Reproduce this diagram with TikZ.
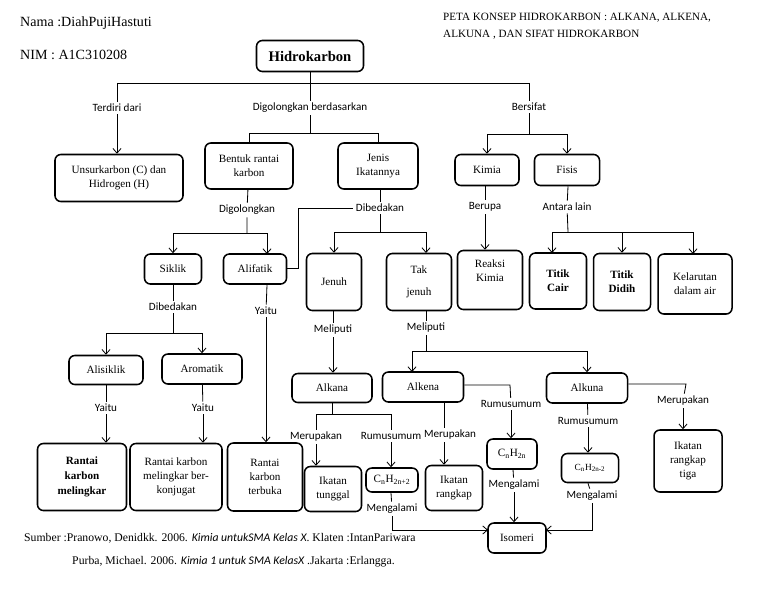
\documentclass[tikz,border=0pt]{standalone}
\usepackage{fontspec}
\setmainfont{Liberation Serif}
\setsansfont{Carlito}
\usetikzlibrary{arrows.meta}

\begin{document}
\begin{tikzpicture}[x=0.03cm,y=-0.03cm,
  box/.style={draw, line width=1.3pt, rounded corners=5pt, align=center, inner sep=1pt, font=\fontsize{9.5}{12}\selectfont},
  sz/.style 2 args={minimum width=#1*0.03cm, minimum height=#2*0.03cm},
  lbl/.style={font=\sffamily\fontsize{9.5}{11}\selectfont, inner sep=2pt},
  link/.style={line width=0.7pt},
  arr/.style={link, -{Straight Barb[length=4pt,width=7pt]}}]
  \useasboundingbox (0,0) rectangle (768,594);

  % Header
  \node[anchor=west, inner sep=0pt, font=\fontsize{12}{14}\selectfont] (nama) at (20,23) {Nama :DiahPujiHastuti};
  \node[anchor=west, inner sep=0pt, font=\fontsize{12}{14}\selectfont] (nim) at (20,55) {NIM : A1C310208};
  \node[anchor=north west, align=left, inner sep=0pt, font=\fontsize{9.5}{14.5}\selectfont] (judul) at (443,13) {PETA KONSEP HIDROKARBON : ALKANA, ALKENA,\\ALKUNA , DAN SIFAT HIDROKARBON};

  % Boxes
  \node[box, sz={107}{31}, font=\bfseries\fontsize{12.5}{14}\selectfont] (hidro) at (310,56) {Hidrokarbon};
  \node[box, sz={128}{47}] (unsur) at (119,178) {Unsurkarbon (C) dan\\Hidrogen (H)};
  \node[box, sz={88}{46}] (bentuk) at (249,166) {Bentuk rantai\\karbon};
  \node[box, sz={80}{46}] (jenis) at (378,166) {Jenis\\Ikatannya};
  \node[box, sz={64}{31}] (kimia) at (487,170) {Kimia};
  \node[box, sz={65}{31}] (fisis) at (567,170) {Fisis};
  \node[box, sz={57}{30}] (siklik) at (173,269) {Siklik};
  \node[box, sz={63}{30}] (alifatik) at (255,269) {Alifatik};
  \node[box, sz={55}{57}] (jenuh) at (334,282) {Jenuh};
  \node[box, sz={65}{57}] (takjenuh) at (419,282) {Tak\\[7pt]jenuh};
  \node[box, sz={65}{59}] (reaksi) at (490,280) {Reaksi\\Kimia\\[4pt]};
  \node[box, sz={57}{56}, font=\bfseries\fontsize{9.5}{12}\selectfont] (tcair) at (558,281) {Titik\\Cair};
  \node[box, sz={57}{57}, font=\bfseries\fontsize{9.5}{12}\selectfont] (tdidih) at (622,282) {Titik\\Didih};
  \node[box, sz={74}{60}] (kelarut) at (695,284) {Kelarutan\\dalam air};
  \node[box, sz={74}{29}] (alisik) at (106,370) {Alisiklik};
  \node[box, sz={80}{30}] (aromat) at (202,369) {Aromatik};
  \node[box, sz={89}{67}, font=\bfseries\fontsize{9.5}{12.5}\selectfont] (rkmel) at (82,477) {Rantai\\karbon\\melingkar};
  \node[box, sz={92}{67}] (rkkonj) at (176,477) {Rantai karbon\\melingkar ber-\\konjugat};
  \node[box, sz={75}{68}] (rkterb) at (265,477) {Rantai\\karbon\\terbuka};
  \node[box, sz={80}{29}] (alkana) at (332,388) {Alkana};
  \node[box, sz={81}{30}] (alkena) at (423,387) {Alkena};
  \node[box, sz={81}{30}] (alkuna) at (587,388) {Alkuna};
  \node[box, sz={57}{45}] (iktung) at (333,489) {Ikatan\\tunggal};
  \node[box, sz={52}{24}] (cnhA) at (392,480) {C\textsubscript{n}H\textsubscript{2n+2}};
  \node[box, sz={57}{45}] (ikrang) at (454,488) {Ikatan\\rangkap};
  \node[box, sz={50}{30}] (cnhE) at (512,454) {C\textsubscript{n}H\textsubscript{2n}};
  \node[box, sz={57}{29}, font=\fontsize{8}{10}\selectfont] (cnhU) at (590,468) {C\textsubscript{n}H\textsubscript{2n-2}};
  \node[box, sz={58}{30}] (isomeri) at (517,538) {Isomeri};
  \node[box, sz={68}{62}] (iktiga) at (688,461) {Ikatan\\rangkap\\tiga};

  % Labels
  \node[lbl] (lTerdiri) at (117,108) {Terdiri dari};
  \node[lbl] (lDigB) at (310,108) {Digolongkan berdasarkan};
  \node[lbl] (lBersifat) at (529,107) {Bersifat};
  \node[lbl] (lDigo) at (247,210) {Digolongkan};
  \node[lbl] (lDibJ) at (380,208) {Dibedakan};
  \node[lbl] (lBerupa) at (485,207) {Berupa};
  \node[lbl] (lAntara) at (567,207) {Antara lain};
  \node[lbl] (lDibS) at (173,307) {Dibedakan};
  \node[lbl] (lYaituF) at (266,311) {Yaitu};
  \node[lbl] (lYaituL) at (106,408) {Yaitu};
  \node[lbl] (lYaituR) at (203,408) {Yaitu};
  \node[lbl] (lMelJ) at (333,330) {Meliputi};
  \node[lbl] (lMelT) at (426,328) {Meliputi};
  \node[lbl] (lMerA) at (316,437) {Merupakan};
  \node[lbl] (lRumA) at (391,436) {Rumusumum};
  \node[lbl] (lMerE) at (450,435) {Merupakan};
  \node[lbl] (lRumE) at (511,404) {Rumusumum};
  \node[lbl] (lMengA) at (392,509) {Mengalami};
  \node[lbl] (lMengE) at (514,485) {Mengalami};
  \node[lbl] (lRumU) at (588,421) {Rumusumum};
  \node[lbl] (lMengU) at (592,496) {Mengalami};
  \node[lbl] (lMerU) at (683,401) {Merupakan};

  % Junctions and off-centre ends
  \coordinate (jTop) at (310,83);
  \coordinate (jL) at (117,83);
  \coordinate (jR) at (529,83);
  \coordinate (jDB) at (310,133);
  \coordinate (jBers) at (529,134);
  \coordinate (jDigo) at (247,233);
  \coordinate (aliTop) at (267,254);
  \coordinate (aliOut) at (298,268);
  \coordinate (jDibJ) at (380,232);
  \coordinate (takTop) at (426,253);
  \coordinate (jAntara) at (568,232);
  \coordinate (cairTop) at (552,253);
  \coordinate (kelTop) at (693,254);
  \coordinate (jDibS) at (173,333);
  \coordinate (jMelT) at (426,351);
  \coordinate (alkeTop) at (412,372);
  \coordinate (jAlkana) at (332,414);
  \coordinate (alkeBot) at (444,402);
  \coordinate (alkeOut) at (510,385);
  \coordinate (alkuOut) at (686,384);
  \coordinate (isoL) at (488,530);
  \coordinate (isoR) at (546,530);

  % Top level
  \draw[link] (hidro) -- (jTop);
  \draw[link] (jL) -- (jR);
  \draw[link] (jL) -- (lTerdiri);
  \draw[arr] (lTerdiri) -- (lTerdiri |- unsur.north);
  \draw[link] (jTop) -- (lDigB) -- (jDB);
  \draw[link] (jDB) -| (bentuk);
  \draw[link] (jDB) -| (jenis);
  \draw[link] (jR) -- (lBersifat) -- (jBers);
  \draw[arr] (jBers) -| (kimia);
  \draw[arr] (jBers) -| (fisis);

  % Sifat
  \draw[link] (kimia.south -| lBerupa) -- (lBerupa);
  \draw[arr] (lBerupa) -- (lBerupa |- reaksi.north);
  \draw[link] (fisis.south -| jAntara) -- (lAntara) -- (jAntara);
  \draw[arr] (jAntara) -| (cairTop);
  \draw[arr] (jAntara) -| (tdidih);
  \draw[arr] (jAntara) -| (kelTop);

  % Bentuk rantai karbon
  \draw[link] (bentuk) -- (lDigo) -- (jDigo);
  \draw[arr] (jDigo) -| (siklik);
  \draw[arr] (jDigo) -| (aliTop);
  \draw[link] (alifatik.east |- aliOut) -- (aliOut) |- (lDibJ);
  \draw[link] (siklik) -- (lDibS) -- (jDibS);
  \draw[arr] (jDibS) -| (alisik);
  \draw[arr] (jDibS) -| (aromat);
  \draw[link] (alisik) -- (lYaituL);
  \draw[arr] (lYaituL) -- (lYaituL |- rkmel.north);
  \draw[link] (aromat) -- (lYaituR);
  \draw[arr] (lYaituR) -- (lYaituR |- rkkonj.north);
  \draw[link] (aliTop |- alifatik.south) -- (lYaituF);
  \draw[arr] (lYaituF) -- (lYaituF |- rkterb.north);

  % Jenis ikatannya
  \draw[link] (jenis.south -| jDibJ) -- (lDibJ) -- (jDibJ);
  \draw[arr] (jDibJ) -| (jenuh);
  \draw[arr] (jDibJ) -| (takTop);
  \draw[link] (jenuh.south -| lMelJ) -- (lMelJ);
  \draw[arr] (lMelJ) -- (lMelJ |- alkana.north);
  \draw[link] (takTop |- takjenuh.south) -- (lMelT) -- (jMelT);
  \draw[arr] (jMelT) -| (alkeTop);
  \draw[arr] (jMelT) -| (alkuna);

  % Alkana
  \draw[link] (alkana) -- (jAlkana);
  \draw[link] (jAlkana) -| (lMerA);
  \draw[link] (jAlkana) -| (lRumA);
  \draw[arr] (lMerA) -- (lMerA |- iktung.north);
  \draw[arr] (lRumA) -- (lRumA |- cnhA.north);
  \draw[link] (lRumA |- cnhA.south) -- (lMengA);
  \draw[arr] (lMengA) |- (isoL);

  % Alkena
  \draw[link] (alkeBot) -- (alkeBot |- lMerE.north);
  \draw[arr] (alkeBot |- lMerE.south) -- (alkeBot |- ikrang.north);
  \draw[link] (alkena.east |- alkeOut) -- (alkeOut) -- (lRumE);
  \draw[arr] (lRumE) -- (lRumE.south |- cnhE.north);
  \draw[link] (cnhE) -- (lMengE);
  \draw[arr] (lMengE) -- (lMengE |- isomeri.north);

  % Alkuna
  \draw[link] (alkuna) -- (lRumU);
  \draw[arr] (lRumU) -- (lRumU |- cnhU.north);
  \draw[link] (lRumU |- cnhU.south) -- (lMengU);
  \draw[arr] (lMengU) |- (isoR);
  \draw[link] (alkuna.east |- alkuOut) -- (alkuOut) -- (lMerU);
  \draw[arr] (lMerU) -- (lMerU |- iktiga.north);

  % Sources
  \node[anchor=west, inner sep=0pt, font=\fontsize{10}{12}\selectfont] (sumber) at (24,538) {Sumber :Pranowo, Denidkk. 2006. {\sffamily\itshape Kimia untukSMA Kelas X}. Klaten :IntanPariwara};
  \node[anchor=west, inner sep=0pt, font=\fontsize{10}{12}\selectfont] (purba) at (72,562) {Purba, Michael. 2006. {\sffamily\itshape Kimia 1 untuk SMA KelasX} .Jakarta :Erlangga.};
\end{tikzpicture}
\end{document}
